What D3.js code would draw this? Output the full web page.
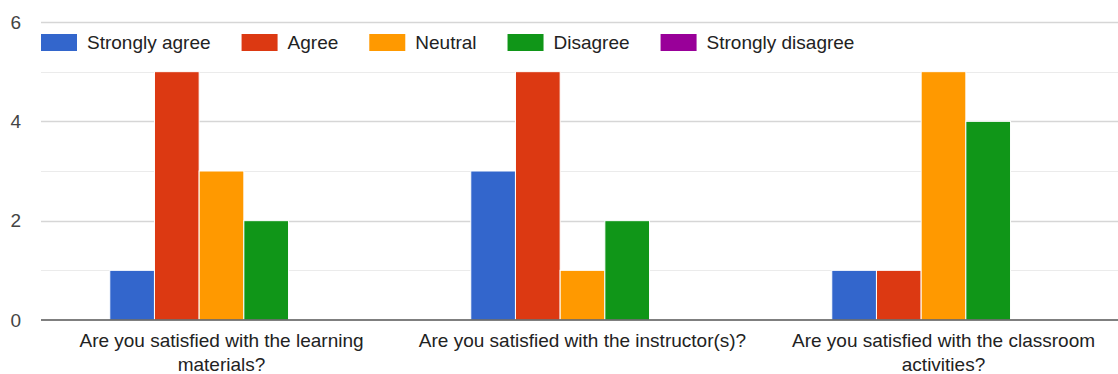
<!DOCTYPE html>
<html>
<head>
<meta charset="utf-8">
<script src="https://cdn.jsdelivr.net/npm/d3@7"></script>
<style>
  html, body { margin: 0; padding: 0; background: #fff; }
  svg { display: block; font-family: "Liberation Sans", Arial, sans-serif; }
</style>
</head>
<body>
<svg id="chart" width="1118" height="374"></svg>
<script>
// Survey responses per question
const categories = [
  "Are you satisfied with the learning materials?",
  "Are you satisfied with the instructor(s)?",
  "Are you satisfied with the classroom activities?"
];
const seriesNames = ["Strongly agree", "Agree", "Neutral", "Disagree", "Strongly disagree"];
const seriesColors = ["#3366cc", "#dc3912", "#ff9900", "#109618", "#990099"];
const stronglyAgree = [1, 3, 1];
const agree = [5, 5, 1];
const neutral = [3, 1, 5];
const disagree = [2, 2, 4];
const stronglyDisagree = [0, 0, 0];
const yTicks = [0, 2, 4, 6];
const yMinorTicks = [1, 3, 5];

const seriesValues = [stronglyAgree, agree, neutral, disagree, stronglyDisagree];

const W = 1118, H = 374;
const plot = { left: 41, right: 1124, top: 22, bottom: 320 };
const FONT = 19;

const svg = d3.select("#chart");

const y = d3.scaleLinear().domain([0, 6]).range([plot.bottom, plot.top]);
const x0 = d3.scaleBand().domain(categories)
  .range([plot.left, plot.right])
  .paddingInner(0.381).paddingOuter(0.1905);
const x1 = d3.scaleBand().domain(seriesNames).range([0, x0.bandwidth()]);

// Gridlines
svg.append("g").selectAll("line").data(yMinorTicks).join("line")
  .attr("x1", plot.left).attr("x2", W)
  .attr("y1", d => Math.round(y(d)) + 0.5).attr("y2", d => Math.round(y(d)) + 0.5)
  .attr("stroke", "#ebebeb").attr("stroke-width", 1.2);
svg.append("g").selectAll("line").data(yTicks.filter(d => d !== 0)).join("line")
  .attr("x1", plot.left).attr("x2", W)
  .attr("y1", d => Math.round(y(d)) + 0.5).attr("y2", d => Math.round(y(d)) + 0.5)
  .attr("stroke", "#d6d6d6").attr("stroke-width", 1.4);

// Y axis labels
const yAxis = d3.axisLeft(y).tickValues(yTicks).tickSize(0).tickPadding(0).tickFormat(d3.format("d"));
const yg = svg.append("g").attr("transform", `translate(${plot.left - 20},0)`).call(yAxis);
yg.select(".domain").remove();
yg.selectAll("text").attr("font-size", FONT).attr("fill", "#444")
  .attr("font-family", "'Liberation Sans', Arial, sans-serif");

// Bars
const groups = svg.append("g").selectAll("g").data(categories).join("g")
  .attr("transform", d => `translate(${x0(d)},0)`);
groups.selectAll("rect")
  .data((d, i) => seriesNames.map((s, j) => ({ s, v: seriesValues[j][i], c: seriesColors[j] })))
  .join("rect")
  .attr("x", d => x1(d.s))
  .attr("width", x1.bandwidth())
  .attr("y", d => y(d.v))
  .attr("height", d => y(0) - y(d.v))
  .attr("fill", d => d.c)
  .attr("stroke", "#fff").attr("stroke-width", 1);

// Baseline
svg.append("line")
  .attr("x1", plot.left).attr("x2", W)
  .attr("y1", y(0)).attr("y2", y(0))
  .attr("stroke", "#555").attr("stroke-width", 1.6);

// X axis labels, wrapped
const xAxis = d3.axisBottom(x0).tickSize(0).tickPadding(0);
const xg = svg.append("g").attr("transform", `translate(0,${y(0)})`).call(xAxis);
xg.select(".domain").remove();
xg.selectAll("text").attr("font-size", FONT).attr("fill", "#222")
  .attr("font-family", "'Liberation Sans', Arial, sans-serif")
  .attr("dy", null).attr("y", 0)
  .each(function(d) {
    const t = d3.select(this);
    const words = d.split(" ");
    t.text(null);
    let line = [];
    let tspan = t.append("tspan").attr("x", 0).attr("y", 27);
    let lineNo = 0;
    for (const w of words) {
      line.push(w);
      tspan.text(line.join(" "));
      if (tspan.node().getComputedTextLength() > 345 && line.length > 1) {
        line.pop();
        tspan.text(line.join(" "));
        line = [w];
        lineNo++;
        tspan = t.append("tspan").attr("x", 0).attr("y", 27 + lineNo * 24).text(w);
      }
    }
  });

// Legend
const legend = svg.append("g").attr("transform", "translate(41,34)");
let lx = 0;
seriesNames.forEach((name, i) => {
  const g = legend.append("g").attr("transform", `translate(${lx},0)`);
  g.append("rect").attr("width", 36).attr("height", 17).attr("fill", seriesColors[i]);
  const txt = g.append("text").attr("x", 46).attr("y", 15)
    .attr("font-size", FONT).attr("fill", "#222").text(name);
  lx += 46 + txt.node().getComputedTextLength() + 31;
});
</script>
</body>
</html>
